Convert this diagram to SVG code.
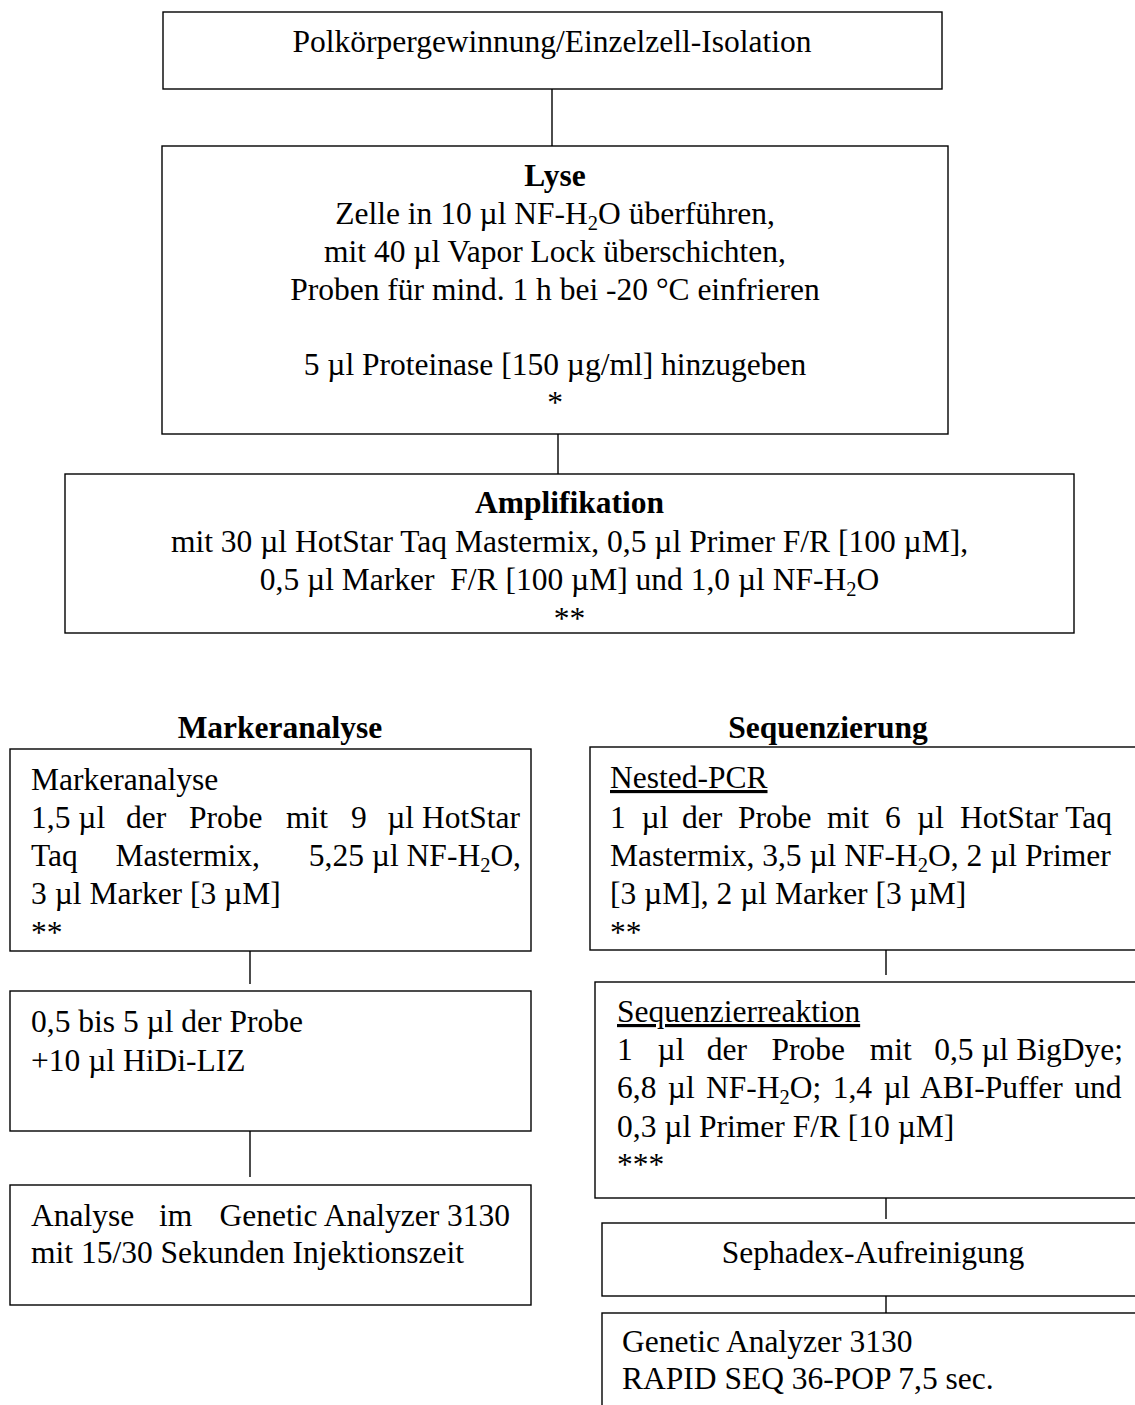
<svg xmlns="http://www.w3.org/2000/svg" width="1135" height="1405" viewBox="0 0 1135 1405">
<style>
.t{font-family:"Liberation Serif","Times New Roman",serif;font-size:31.5px;fill:#000}
.b{font-weight:bold}
.m{text-anchor:middle}
.e{text-anchor:end}
.u{text-decoration:underline}
.s{font-size:20.5px}
.box{fill:#fff;stroke:#000;stroke-width:1.4}
.ln{stroke:#000;stroke-width:1.4;fill:none}
</style>
<rect width="1135" height="1405" fill="#fff"/>
<g id="connectors">
<line class="ln" x1="552" y1="89" x2="552" y2="146"/>
<line class="ln" x1="558" y1="434" x2="558" y2="474"/>
<line class="ln" x1="250" y1="951" x2="250" y2="984"/>
<line class="ln" x1="250" y1="1131" x2="250" y2="1177"/>
<line class="ln" x1="886" y1="950" x2="886" y2="975"/>
<line class="ln" x1="886" y1="1198" x2="886" y2="1219"/>
<line class="ln" x1="886" y1="1296" x2="886" y2="1313"/>
</g>
<g id="n-start">
<rect class="box" x="163" y="12" width="779" height="77"/>
<text class="t m" x="552" y="52">Polkörpergewinnung/Einzelzell-Isolation</text>
</g>
<g id="n-lyse">
<rect class="box" x="162" y="146" width="786" height="288"/>
<text class="t b m" x="555" y="186">Lyse</text>
<text class="t m" x="555" y="224">Zelle in 10 µl NF-H<tspan class="s" dy="6">2</tspan><tspan dy="-6">O überführen,</tspan></text>
<text class="t m" x="555" y="262">mit 40 µl Vapor Lock überschichten,</text>
<text class="t m" x="555" y="300">Proben für mind. 1 h bei -20 °C einfrieren</text>
<text class="t m" x="555" y="375">5 µl Proteinase [150 µg/ml] hinzugeben</text>
<text class="t m" x="555" y="413">*</text>
</g>
<g id="n-amp">
<rect class="box" x="65" y="474" width="1009" height="159"/>
<text class="t b m" x="569.5" y="513">Amplifikation</text>
<text class="t m" x="569.5" y="552">mit 30 µl HotStar Taq Mastermix, 0,5 µl Primer F/R [100 µM],</text>
<text class="t m" x="569.5" y="590">0,5 µl Marker&#160; F/R [100 µM] und 1,0 µl NF-H<tspan class="s" dy="6">2</tspan><tspan dy="-6">O</tspan></text>
<text class="t m" x="569.5" y="629">**</text>
</g>
<g id="h-marker">
<text class="t b m" x="280" y="738">Markeranalyse</text>
</g>
<g id="h-seq">
<text class="t b m" x="828" y="738">Sequenzierung</text>
</g>
<g id="n-m1">
<rect class="box" x="10" y="749" width="521" height="202"/>
<text class="t" x="31" y="790">Markeranalyse</text>
<text class="t" y="828"><tspan x="31">1,5 µl</tspan><tspan x="126">der</tspan><tspan x="189">Probe</tspan><tspan x="286">mit</tspan><tspan x="351">9</tspan></text>
<text class="t e" x="520" y="828">µl HotStar</text>
<text class="t" y="866"><tspan x="31">Taq</tspan><tspan x="115.5">Mastermix,</tspan></text>
<text class="t e" x="521" y="866">5,25 µl NF-H<tspan class="s" dy="6">2</tspan><tspan dy="-6">O,</tspan></text>
<text class="t" x="31" y="904">3 µl Marker [3 µM]</text>
<text class="t" x="31" y="943">**</text>
</g>
<g id="n-m2">
<rect class="box" x="10" y="991" width="521" height="140"/>
<text class="t" x="31" y="1032">0,5 bis 5 µl der Probe</text>
<text class="t" x="31" y="1071">+10 µl HiDi-LIZ</text>
</g>
<g id="n-m3">
<rect class="box" x="10" y="1185" width="521" height="120"/>
<text class="t" y="1226"><tspan x="31">Analyse</tspan><tspan x="159">im</tspan></text>
<text class="t e" x="510" y="1226">Genetic Analyzer 3130</text>
<text class="t" x="31" y="1263">mit 15/30 Sekunden Injektionszeit</text>
</g>
<g id="n-s1">
<rect class="box" x="590" y="747" width="555" height="203"/>
<text class="t u" x="610" y="788">Nested-PCR</text>
<text class="t" y="828"><tspan x="610">1</tspan><tspan x="641.6">µl</tspan><tspan x="682">der</tspan><tspan x="738">Probe</tspan><tspan x="827">mit</tspan><tspan x="885">6</tspan><tspan x="917">µl</tspan></text>
<text class="t e" x="1112" y="828">HotStar Taq</text>
<text class="t" x="610" y="866">Mastermix, 3,5 µl NF-H<tspan class="s" dy="6">2</tspan><tspan dy="-6">O, 2 µl Primer</tspan></text>
<text class="t" x="610" y="904">[3 µM], 2 µl Marker [3 µM]</text>
<text class="t" x="610" y="943">**</text>
</g>
<g id="n-s2">
<rect class="box" x="595" y="982" width="550" height="216"/>
<text class="t u" x="617" y="1022">Sequenzierreaktion</text>
<text class="t" y="1060"><tspan x="617">1</tspan><tspan x="657.5">µl</tspan><tspan x="706.7">der</tspan><tspan x="771.6">Probe</tspan><tspan x="869.8">mit</tspan></text>
<text class="t e" x="1123" y="1060">0,5 µl BigDye;</text>
<text class="t" x="617" y="1098" word-spacing="3.5">6,8 µl NF-H<tspan class="s" dy="6">2</tspan><tspan dy="-6">O; 1,4 µl ABI-Puffer und</tspan></text>
<text class="t" x="617" y="1137">0,3 µl Primer F/R [10 µM]</text>
<text class="t" x="617" y="1175">***</text>
</g>
<g id="n-s3">
<rect class="box" x="602" y="1223" width="542" height="73"/>
<text class="t m" x="873" y="1263">Sephadex-Aufreinigung</text>
</g>
<g id="n-s4">
<rect class="box" x="602" y="1313" width="542" height="120"/>
<text class="t" x="622" y="1352">Genetic Analyzer 3130</text>
<text class="t" x="622" y="1389">RAPID SEQ 36-POP 7,5 sec.</text>
</g>
</svg>
